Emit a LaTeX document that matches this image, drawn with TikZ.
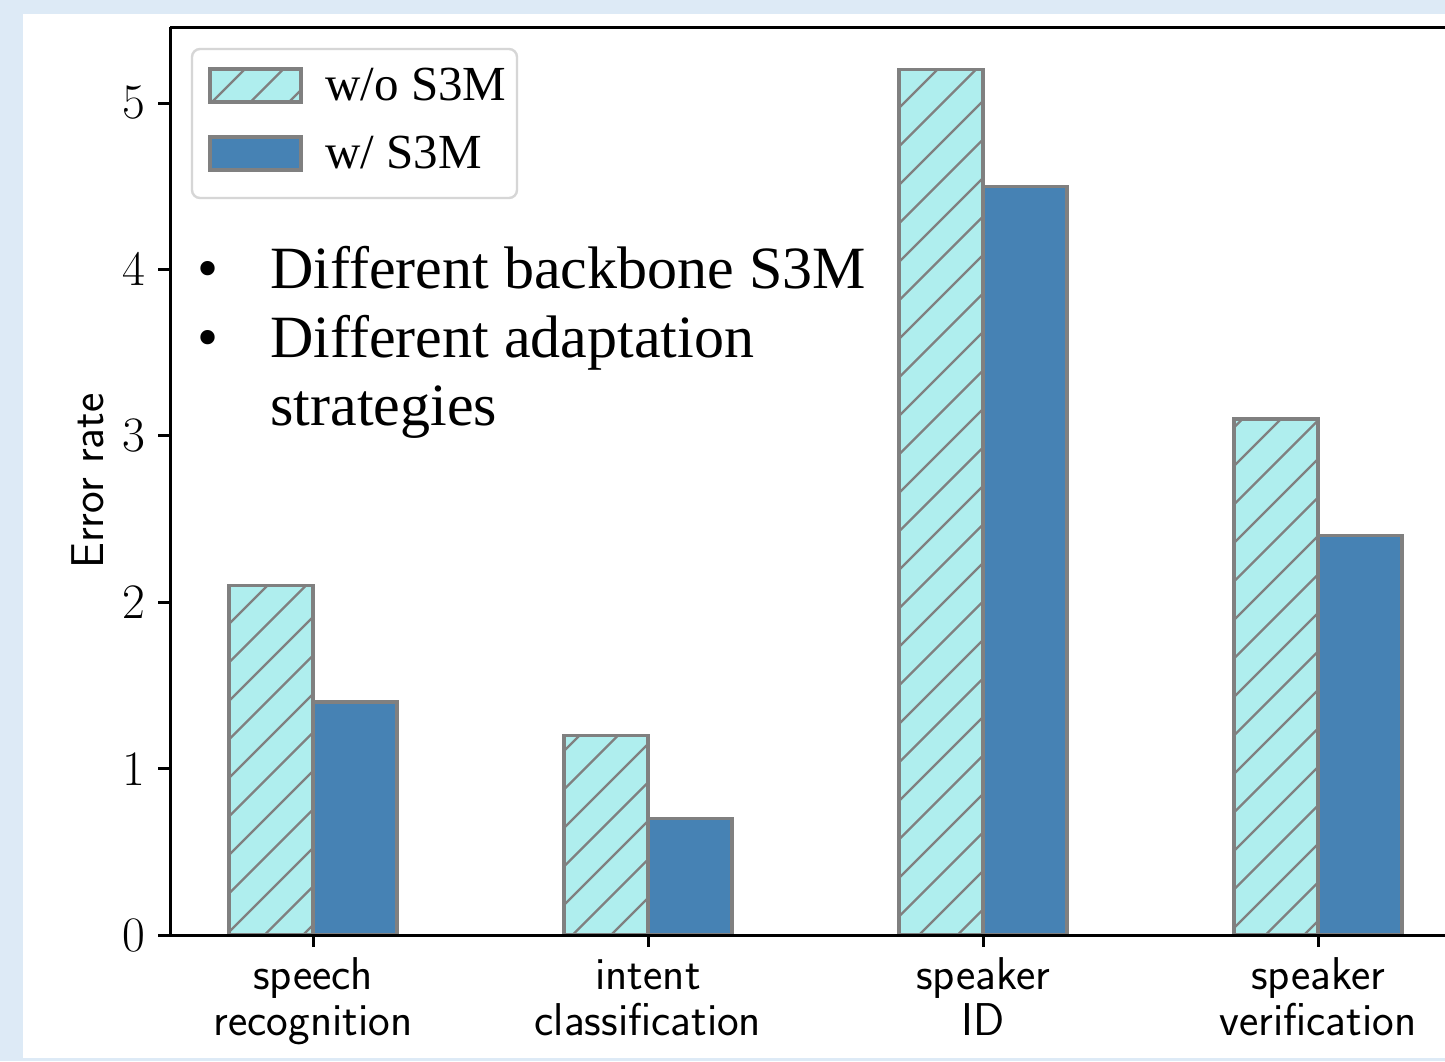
\documentclass[tikz,border=0pt]{standalone}
\usepackage{fontspec}
\newfontfamily\slidefont{Liberation Serif}
\definecolor{pageblue}{RGB}{221,234,246}
\definecolor{paleturq}{HTML}{AFEEEE}
\definecolor{steelb}{HTML}{4682B4}
\definecolor{edgegray}{HTML}{808080}
\definecolor{legframe}{HTML}{D6D6D6}

\begin{document}
\begin{tikzpicture}[x=0.5pt,y=-0.5pt,
  spine/.style={black,line width=1.5pt},
  barA/.style={fill=paleturq},
  barB/.style={fill=steelb},
  baredge/.style={draw=edgegray,line width=1.7pt},
  hatchline/.style={edgegray,line width=1.2pt},
  ticklab/.style={inner sep=0pt,anchor=east,font=\fontsize{24.8}{30}\selectfont},
  catlab/.style={inner sep=0pt,anchor=base,font=\sffamily\fontsize{23}{28}\selectfont},
  legtext/.style={inner sep=0pt,anchor=base west,font=\slidefont\fontsize{24.5}{29}\selectfont},
  notetext/.style={inner sep=0pt,anchor=base west,font=\slidefont\fontsize{30}{36}\selectfont}]

% page and figure background
\useasboundingbox (0,0) rectangle (1445,1061);
\fill[pageblue] (0,0) rectangle (1445,1061);
\fill[white] (23,14) rectangle (1445,1058);

% bars: group centre, value without S3M, value with S3M
\foreach \c/\va/\vb in {313/2.1/1.4, 648/1.2/0.7, 983/5.2/4.5, 1318/3.1/2.4}{
  \pgfmathsetmacro{\ya}{935-166.4*\va}
  \pgfmathsetmacro{\yb}{935-166.4*\vb}
  \fill[barA] (\c-84,\ya) rectangle (\c,935);
  \begin{scope}
    \clip (\c-84,\ya) rectangle (\c,935);
    \foreach \m in {-19,...,35}{
      \pgfmathsetmacro{\C}{1007+38.5*\m}
      \draw[hatchline] (\C-1061,1061) -- (\C,0);
    }
  \end{scope}
  \draw[baredge] (\c-84,\ya) rectangle (\c,935);
  \fill[barB] (\c,\yb) rectangle (\c+84,935);
  \draw[baredge] (\c,\yb) rectangle (\c+84,935);
}

% axes
\draw[spine] (170,27) -- (170,935) -- (1445,935);
\draw[spine] (170,27) -- (1445,27);

% y ticks
\foreach \v in {0,...,5}{
  \draw[spine] (158,{935-166.4*\v}) -- (170,{935-166.4*\v});
  \node[ticklab] (yt\v) at (146,{935-166.4*\v}) {\v};
}
\node[inner sep=0pt,rotate=90,font=\sffamily\fontsize{23}{28}\selectfont] (ylab) at (88,481) {Error rate};

% x ticks and category labels
\foreach \c in {313,648,983,1318}{
  \draw[spine] (\c,935) -- (\c,947);
}
\node[catlab] (sr1) at (313,989) {speech};
\node[catlab] (sr2) at (313,1035) {recognition};
\node[catlab] (ic1) at (648,989) {intent};
\node[catlab] (ic2) at (648,1035) {classification};
\node[catlab] (si1) at (983,989) {speaker};
\node[catlab] (si2) at (983,1035) {ID};
\node[catlab] (sv1) at (1318,989) {speaker};
\node[catlab] (sv2) at (1318,1035) {verification};

% legend
\draw[draw=legframe,fill=white,line width=1.2pt,rounded corners=4pt] (192,49) rectangle (517,198);
\fill[barA] (210,69) rectangle (301,102);
\begin{scope}
  \clip (210,69) rectangle (301,102);
  \foreach \m in {-19,...,35}{
    \pgfmathsetmacro{\C}{1007+38.5*\m}
    \draw[hatchline] (\C-1061,1061) -- (\C,0);
  }
\end{scope}
\draw[baredge] (210,69) rectangle (301,102);
\fill[barB] (210,137) rectangle (301,170);
\draw[baredge] (210,137) rectangle (301,170);
\node[legtext] (lega) at (325,100) {w/o S3M};
\node[legtext] (legb) at (325,168) {w/ S3M};

% bullet notes
\node[notetext] (b1) at (197,288) {\textbullet};
\node[notetext] (b2) at (197,357) {\textbullet};
\node[notetext] (n1) at (270,288) {Different backbone S3M};
\node[notetext] (n2) at (270,357) {Different adaptation};
\node[notetext] (n3) at (270,425) {strategies};
\end{tikzpicture}
\end{document}
